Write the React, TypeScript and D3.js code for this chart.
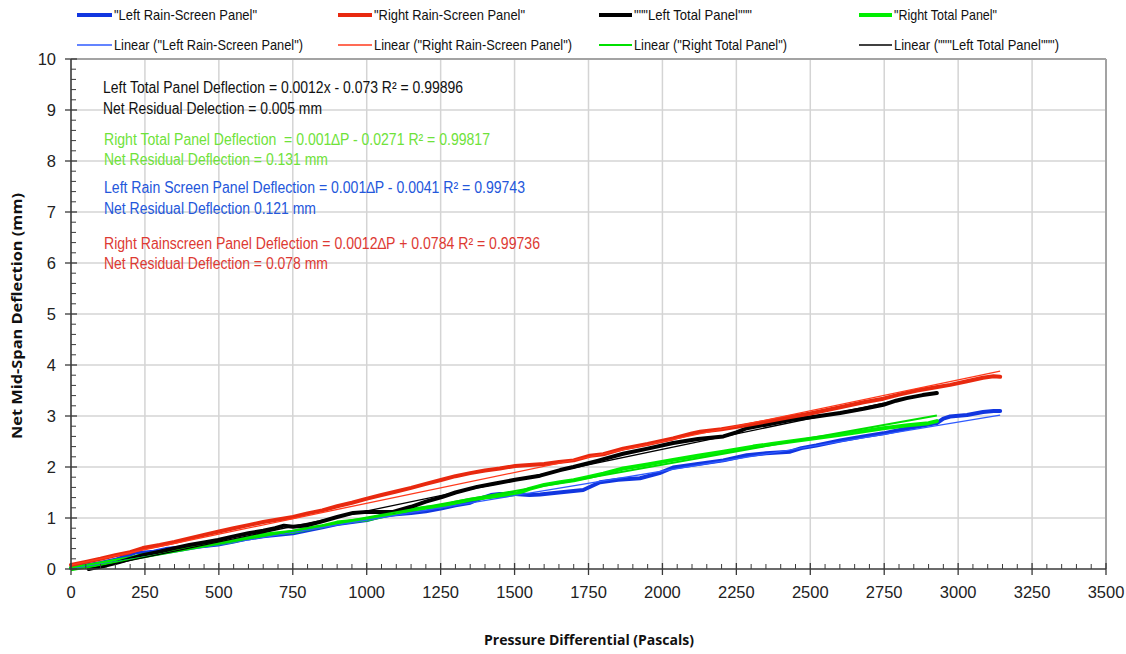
import React from "react";
import * as d3 from "d3";

type Pt = [number, number];

// Pressure (Pa), deflection (mm)
const leftRainScreen: Pt[] = [
  [0, 0.02], [50, 0.07], [100, 0.12], [150, 0.18], [200, 0.28], [220, 0.33], [243, 0.32], [280, 0.34],
  [320, 0.39], [357, 0.41], [400, 0.43], [450, 0.45], [497, 0.48], [550, 0.54], [600, 0.6], [650, 0.64],
  [700, 0.67], [751, 0.7], [800, 0.76], [850, 0.82], [900, 0.88], [950, 0.92], [1001, 0.96], [1050, 1.04],
  [1089, 1.07], [1150, 1.1], [1200, 1.13], [1254, 1.19], [1300, 1.25], [1350, 1.3], [1373, 1.36],
  [1420, 1.45], [1450, 1.47], [1502, 1.47], [1550, 1.45], [1586, 1.46], [1650, 1.5], [1732, 1.55],
  [1789, 1.7], [1850, 1.75], [1924, 1.78], [1990, 1.88], [2036, 1.99], [2120, 2.06], [2206, 2.13],
  [2285, 2.23], [2350, 2.27], [2432, 2.3], [2470, 2.37], [2520, 2.42], [2601, 2.52], [2680, 2.6],
  [2747, 2.66], [2830, 2.76], [2928, 2.86], [2950, 2.95], [2973, 2.99], [3030, 3.02], [3084, 3.08],
  [3120, 3.1], [3142, 3.1],
];

const rightRainScreen: Pt[] = [
  [0, 0.08], [50, 0.14], [100, 0.2], [150, 0.27], [200, 0.33], [243, 0.41], [300, 0.47], [350, 0.53],
  [400, 0.6], [450, 0.67], [497, 0.73], [550, 0.8], [600, 0.86], [650, 0.92], [700, 0.97], [751, 1.02],
  [800, 1.09], [850, 1.15], [900, 1.23], [950, 1.3], [1001, 1.38], [1050, 1.45], [1100, 1.52],
  [1150, 1.59], [1200, 1.67], [1254, 1.75], [1300, 1.82], [1350, 1.88], [1400, 1.93], [1450, 1.97],
  [1502, 2.02], [1550, 2.04], [1600, 2.06], [1650, 2.1], [1700, 2.13], [1755, 2.22], [1800, 2.25],
  [1867, 2.36], [1950, 2.45], [2036, 2.56], [2100, 2.66], [2127, 2.69], [2200, 2.74], [2262, 2.8],
  [2350, 2.89], [2432, 2.98], [2500, 3.05], [2601, 3.17], [2680, 3.27], [2747, 3.34], [2800, 3.42],
  [2861, 3.5], [2920, 3.56], [2973, 3.61], [3030, 3.68], [3084, 3.75], [3120, 3.78], [3142, 3.77],
];

const leftTotal: Pt[] = [
  [60, 0], [75, 0.02], [120, 0.07], [160, 0.13], [200, 0.2], [243, 0.27], [300, 0.34], [350, 0.41],
  [400, 0.47], [450, 0.52], [497, 0.57], [550, 0.64], [600, 0.7], [650, 0.75], [690, 0.8], [720, 0.85],
  [751, 0.83], [800, 0.86], [840, 0.92], [900, 1.02], [954, 1.1], [1001, 1.12], [1050, 1.12], [1089, 1.12],
  [1150, 1.22], [1200, 1.32], [1254, 1.41], [1300, 1.5], [1373, 1.61], [1430, 1.67], [1502, 1.75],
  [1586, 1.83], [1654, 1.94], [1699, 2.0], [1780, 2.12], [1867, 2.26], [1950, 2.36], [2036, 2.47],
  [2120, 2.55], [2206, 2.6], [2250, 2.68], [2285, 2.76], [2350, 2.83], [2432, 2.92], [2520, 2.99],
  [2601, 3.06], [2680, 3.14], [2747, 3.22], [2790, 3.3], [2826, 3.35], [2880, 3.41], [2928, 3.45],
];

const rightTotal: Pt[] = [
  [0, 0.02], [50, 0.06], [100, 0.11], [150, 0.16], [200, 0.21], [243, 0.27], [300, 0.32], [350, 0.38],
  [400, 0.43], [450, 0.47], [497, 0.5], [550, 0.55], [600, 0.61], [650, 0.67], [700, 0.7], [751, 0.73],
  [800, 0.79], [850, 0.84], [900, 0.91], [950, 0.94], [1001, 0.97], [1050, 1.03], [1100, 1.1],
  [1150, 1.16], [1200, 1.2], [1254, 1.23], [1300, 1.3], [1350, 1.36], [1400, 1.4], [1450, 1.43],
  [1502, 1.47], [1550, 1.57], [1600, 1.65], [1654, 1.7], [1700, 1.74], [1755, 1.81], [1800, 1.87],
  [1867, 1.97], [1950, 2.05], [2036, 2.14], [2120, 2.22], [2206, 2.3], [2307, 2.4], [2370, 2.45],
  [2432, 2.5], [2520, 2.57], [2601, 2.63], [2680, 2.7], [2747, 2.76], [2830, 2.82], [2900, 2.86],
  [2928, 2.9],
];

// Linear trendlines: slope, intercept, x range
const trendNames = ["leftRain", "rightRain", "rightTotal", "leftTotal"];
const trendSlopes = [0.000962, 0.00121, 0.001037, 0.00121];
const trendIntercepts = [-0.0041, 0.0784, -0.0271, -0.073];
const trendStarts = [0, 0, 0, 60];
const trendEnds = [3142, 3142, 2928, 2928];

const xTicks = d3.range(0, 3501, 250);
const yTicks = d3.range(0, 11, 1);

const legendRow1 = ['"Left Rain-Screen Panel"', '"Right Rain-Screen Panel"', '"""Left Total Panel"""', '"Right Total Panel"'];
const legendRow2 = ['Linear ("Left Rain-Screen Panel")', 'Linear ("Right Rain-Screen Panel")', 'Linear ("Right Total Panel")', 'Linear ("""Left Total Panel""")'];

const annotations = [
  "Left Total Panel Deflection = 0.0012x - 0.073 R² = 0.99896",
  "Net Residual Delection = 0.005 mm",
  "Right Total Panel Deflection  = 0.001∆P - 0.0271 R² = 0.99817",
  "Net Residual Deflection = 0.131 mm",
  "Left Rain Screen Panel Deflection = 0.001∆P - 0.0041 R² = 0.99743",
  "Net Residual Deflection 0.121 mm",
  "Right Rainscreen Panel Deflection = 0.0012∆P + 0.0784 R² = 0.99736",
  "Net Residual Deflection = 0.078 mm",
];

const W = 1126, H = 654;
const x = d3.scaleLinear().domain([0, 3500]).range([71, 1106]);
const y = d3.scaleLinear().domain([0, 10]).range([569, 59]);

const FONT = "'Liberation Sans Narrow', 'Liberation Sans', Arial, sans-serif";

const C_BLUE = "#1136e0";
const C_RED = "#e8290f";
const C_GREEN = "#00ee00";
const C_BLACK = "#000000";

export default function App() {
  const line = d3.line<Pt>().x((d) => x(d[0])).y((d) => y(d[1]));
  const series = [
    { data: leftRainScreen, color: C_BLUE },
    { data: rightTotal, color: C_GREEN },
    { data: leftTotal, color: C_BLACK },
    { data: rightRainScreen, color: C_RED },
  ];
  const trendColors = ["#2f5bff", "#ff3a1c", "#00e000", "#000000"];
  const trendWidths = [1.3, 1.3, 2, 1.3];

  const xMinor = d3.range(0, 3501, 50).filter((v) => v % 250 !== 0);
  const yMinor = d3.range(0, 10.01, 0.2).filter((v) => Math.abs(v - Math.round(v)) > 0.01);

  const annColors = ["#111111", "#111111", "#6fe23a", "#6fe23a", "#2457db", "#2457db", "#dd3a33", "#dd3a33"];
  const annY = [93, 114, 145, 165, 193, 214, 249, 269];
  const annX = [103, 103, 104, 104, 104, 104, 104, 104];
  const annW = [360, 219, 386, 224, 421, 212, 436, 224];

  const legCols = [77, 338, 599, 859];
  const legLineW = [35, 34, 33, 33];
  const row1Colors = [C_BLUE, C_RED, C_BLACK, C_GREEN];
  const row2Colors = ["#2f5bff", "#ff3a1c", "#00e000", "#000000"];
  const row1W = [143, 151, 118, 103];
  const row2W = [189, 198, 153, 165];

  return (
    <svg width={W} height={H} style={{ position: "absolute", left: 0, top: 0, background: "#fff" }} fontFamily={FONT}>
      {/* gridlines */}
      {xTicks.filter((v) => v > 0 && v < 3500).map((v) => (
        <line key={"gx" + v} x1={x(v)} x2={x(v)} y1={y(10)} y2={y(0)} stroke="#d4d4d4" strokeWidth={1.5} />
      ))}
      {yTicks.filter((v) => v > 0 && v < 10).map((v) => (
        <line key={"gy" + v} x1={x(0)} x2={x(3500)} y1={y(v)} y2={y(v)} stroke="#d4d4d4" strokeWidth={1.5} />
      ))}
      {/* frame */}
      <line x1={x(0)} x2={x(3500)} y1={y(10)} y2={y(10)} stroke="#a3a3a3" strokeWidth={2} />
      <line x1={x(3500)} x2={x(3500)} y1={y(10)} y2={y(0)} stroke="#a3a3a3" strokeWidth={2} />

      {/* data series */}
      {series.map((s, i) => (
        <path key={"s" + i} d={line(s.data) || ""} fill="none" stroke={s.color} strokeWidth={4} strokeLinejoin="round" strokeLinecap="round" />
      ))}
      {/* trendlines */}
      {trendNames.map((n, i) => (
        <line key={"t" + n}
          x1={x(trendStarts[i])} x2={x(trendEnds[i])}
          y1={y(trendSlopes[i] * trendStarts[i] + trendIntercepts[i])}
          y2={y(trendSlopes[i] * trendEnds[i] + trendIntercepts[i])}
          stroke={trendColors[i]} strokeWidth={trendWidths[i]} />
      ))}

      {/* axes */}
      <line x1={x(0)} x2={x(0)} y1={y(10)} y2={y(0)} stroke="#3a3a3a" strokeWidth={1.6} />
      <line x1={x(0)} x2={x(3500)} y1={y(0)} y2={y(0)} stroke="#3a3a3a" strokeWidth={1.6} />
      {yTicks.map((v) => (
        <g key={"yt" + v}>
          <line x1={x(0) - 6} x2={x(0) + 6} y1={y(v)} y2={y(v)} stroke="#3a3a3a" strokeWidth={1.3} />
          <text x={56} y={y(v)} dy="0.35em" textAnchor="end" fontSize={16.5} fill="#222">{v}</text>
        </g>
      ))}
      {yMinor.map((v, i) => (
        <line key={"ym" + i} x1={x(0)} x2={x(0) + 5} y1={y(v)} y2={y(v)} stroke="#3a3a3a" strokeWidth={1} />
      ))}
      {xTicks.map((v) => (
        <g key={"xt" + v}>
          <line x1={x(v)} x2={x(v)} y1={y(0) - 6} y2={y(0) + 6} stroke="#3a3a3a" strokeWidth={1.3} />
          <text x={x(v)} y={592} dy="0.35em" textAnchor="middle" fontSize={16.5} fill="#222">{v}</text>
        </g>
      ))}
      {xMinor.map((v) => (
        <line key={"xm" + v} x1={x(v)} x2={x(v)} y1={y(0) - 5} y2={y(0)} stroke="#3a3a3a" strokeWidth={1} />
      ))}

      {/* axis titles */}
      <text x={589} y={640} dy="0.35em" textAnchor="middle" fontFamily="'Open Sans', Lato, sans-serif" fontWeight="bold" fontSize={14.5}
        textLength={210} lengthAdjust="spacingAndGlyphs" fill="#111">Pressure Differential (Pascals)</text>
      <text transform="translate(17,316) rotate(-90)" dy="0.35em" textAnchor="middle" fontFamily="'Open Sans', Lato, sans-serif" fontWeight="bold" fontSize={14.5}
        textLength={246} lengthAdjust="spacingAndGlyphs" fill="#111">Net Mid-Span Deflection (mm)</text>

      {/* annotations */}
      {annotations.map((t, i) => (
        <text key={"a" + i} x={annX[i]} y={annY[i]} fontSize={16} fill={annColors[i]} textLength={annW[i]} lengthAdjust="spacingAndGlyphs" style={{ whiteSpace: "pre" }}>{t}</text>
      ))}

      {/* legend */}
      {legendRow1.map((t, i) => (
        <g key={"l1" + i}>
          <line x1={legCols[i]} x2={legCols[i] + legLineW[i]} y1={15} y2={15} stroke={row1Colors[i]} strokeWidth={4} />
          <text x={legCols[i] + legLineW[i] + 2} y={15} dy="0.35em" fontSize={15} fill="#111" textLength={row1W[i]} lengthAdjust="spacingAndGlyphs">{t}</text>
        </g>
      ))}
      {legendRow2.map((t, i) => (
        <g key={"l2" + i}>
          <line x1={legCols[i]} x2={legCols[i] + legLineW[i]} y1={45} y2={45} stroke={row2Colors[i]} strokeWidth={i === 2 ? 2 : 1.4} />
          <text x={legCols[i] + legLineW[i] + 2} y={45} dy="0.35em" fontSize={15} fill="#111" textLength={row2W[i]} lengthAdjust="spacingAndGlyphs">{t}</text>
        </g>
      ))}
    </svg>
  );
}
